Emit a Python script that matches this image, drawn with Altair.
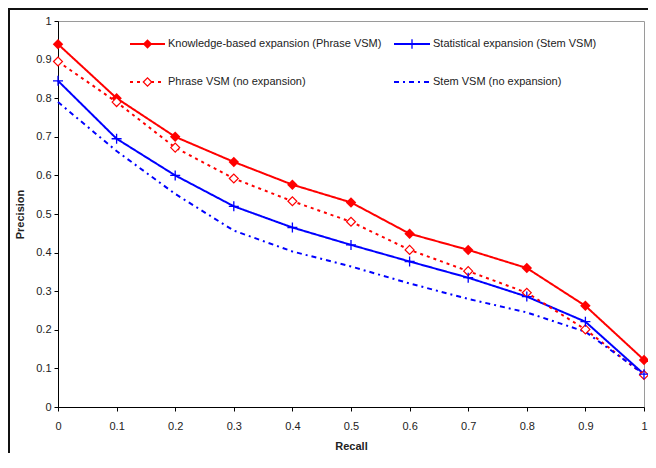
import altair as alt
import pandas as pd

recall = [0, 0.1, 0.2, 0.3, 0.4, 0.5, 0.6, 0.7, 0.8, 0.9, 1.0]
knowledge = [0.94, 0.80, 0.70, 0.635, 0.576, 0.53, 0.449, 0.407, 0.36, 0.262, 0.122]
phrase = [0.895, 0.79, 0.672, 0.592, 0.533, 0.48, 0.407, 0.352, 0.296, 0.201, 0.083]
statistical = [0.845, 0.695, 0.60, 0.52, 0.465, 0.42, 0.377, 0.335, 0.286, 0.221, 0.085]
stem = [0.79, 0.663, 0.552, 0.457, 0.403, 0.364, 0.32, 0.28, 0.245, 0.195, 0.085]

names = [
    "Knowledge-based expansion (Phrase VSM)",
    "Statistical expansion (Stem VSM)",
    "Phrase VSM (no expansion)",
    "Stem VSM (no expansion)",
]
values = [knowledge, statistical, phrase, stem]
colors = ["#ff0000", "#0000ff", "#ff0000", "#0000ff"]
dashes = [[1, 0], [1, 0], [3, 4], [5, 4, 2, 4]]

FONT = "Liberation Sans"
W, H = 586, 386

frames = []
for n, v in zip(names, values):
    frames.append(pd.DataFrame({"series": n, "recall": recall, "precision": v}))
df = pd.concat(frames, ignore_index=True)

x = alt.X("recall:Q", scale=alt.Scale(domain=[0, 1], nice=False),
          axis=alt.Axis(title="Recall", values=recall, format="~g", grid=False,
                        labelFlush=False, tickSize=4, domainColor="black",
                        tickColor="black", labelColor="#222", labelFont=FONT,
                        labelFontSize=11, labelPadding=9, titleFont=FONT,
                        titleFontSize=11, titleFontWeight="bold", titlePadding=9,
                        titleColor="#222"))
y = alt.Y("precision:Q", scale=alt.Scale(domain=[0, 1], nice=False),
          axis=alt.Axis(title="Precision", values=recall, format="~g", grid=False,
                        labelFlush=False, tickSize=4, domainColor="black",
                        tickColor="black", labelColor="#222", labelFont=FONT,
                        labelFontSize=11, labelPadding=3, titleFont=FONT,
                        titleFontSize=11, titleFontWeight="bold", titlePadding=10,
                        titleColor="#222"))

plus_path = "M-1,0L1,0M0,-1L0,1"

layers = []
for i, n in enumerate(names):
    sub = df[df.series == n]
    layers.append(alt.Chart(sub).mark_line(color=colors[i], strokeWidth=2,
                                           strokeDash=dashes[i]).encode(x=x, y=y))
# markers
layers.append(alt.Chart(df[df.series == names[0]]).mark_point(
    shape="diamond", filled=True, color="#ff0000", size=110, opacity=1).encode(x=x, y=y))
layers.append(alt.Chart(df[df.series == names[2]]).mark_point(
    shape="diamond", filled=True, fill="white", stroke="#ff0000", strokeWidth=1.2,
    size=80, opacity=1).encode(x=x, y=y))
layers.append(alt.Chart(df[df.series == names[1]]).mark_point(
    shape=plus_path, filled=False, color="#0000ff", strokeWidth=1.3,
    size=100, opacity=1).encode(x=x, y=y))

# legend (pixel layout inside the plot)
leg = pd.DataFrame({
    "series": names,
    "x1": [72, 336, 72, 336],
    "x2": [107, 372, 107, 372],
    "ly": [23, 23, 61, 61],
})
leg["xm"] = (leg.x1 + leg.x2) / 2
leg["tx"] = leg.x2 + 3
for i, n in enumerate(names):
    row = leg[leg.series == n]
    layers.append(alt.Chart(row).mark_rule(color=colors[i], strokeWidth=2,
                                          strokeDash=dashes[i]).encode(
        x=alt.X("x1:Q", scale=None), x2="x2:Q", y=alt.Y("ly:Q", scale=None)))
layers.append(alt.Chart(leg[leg.series == names[0]]).mark_point(
    shape="diamond", filled=True, color="#ff0000", size=90, opacity=1).encode(
    x=alt.X("xm:Q", scale=None), y=alt.Y("ly:Q", scale=None)))
layers.append(alt.Chart(leg[leg.series == names[2]]).mark_point(
    shape="diamond", filled=True, fill="white", stroke="#ff0000", strokeWidth=1.2,
    size=70, opacity=1).encode(
    x=alt.X("xm:Q", scale=None), y=alt.Y("ly:Q", scale=None)))
layers.append(alt.Chart(leg[leg.series == names[1]]).mark_point(
    shape=plus_path, filled=False, color="#0000ff", strokeWidth=1.3,
    size=90, opacity=1).encode(
    x=alt.X("xm:Q", scale=None), y=alt.Y("ly:Q", scale=None)))
layers.append(alt.Chart(leg).mark_text(align="left", baseline="middle", font=FONT,
                                       fontSize=11, color="#222").encode(
    x=alt.X("tx:Q", scale=None), y=alt.Y("ly:Q", scale=None), text="series:N"))

# outer frame (left and top edges)
layers.append(alt.Chart(pd.DataFrame({"a": [0]})).mark_rule(color="#111", strokeWidth=2).encode(
    x=alt.value(-49), y=alt.value(-12), y2=alt.value(433)))
layers.append(alt.Chart(pd.DataFrame({"a": [0]})).mark_rule(color="#111", strokeWidth=2).encode(
    x=alt.value(-50), x2=alt.value(W + 4), y=alt.value(-12)))

chart = alt.layer(*layers).properties(
    width=W, height=H, autosize="none",
    padding={"left": 50, "top": 13, "right": 4, "bottom": 46},
    background="white",
).configure_view(stroke="#9a9a9a", strokeWidth=1)

chart.save("out.html", embed_options={"renderer": "svg", "actions": False})
